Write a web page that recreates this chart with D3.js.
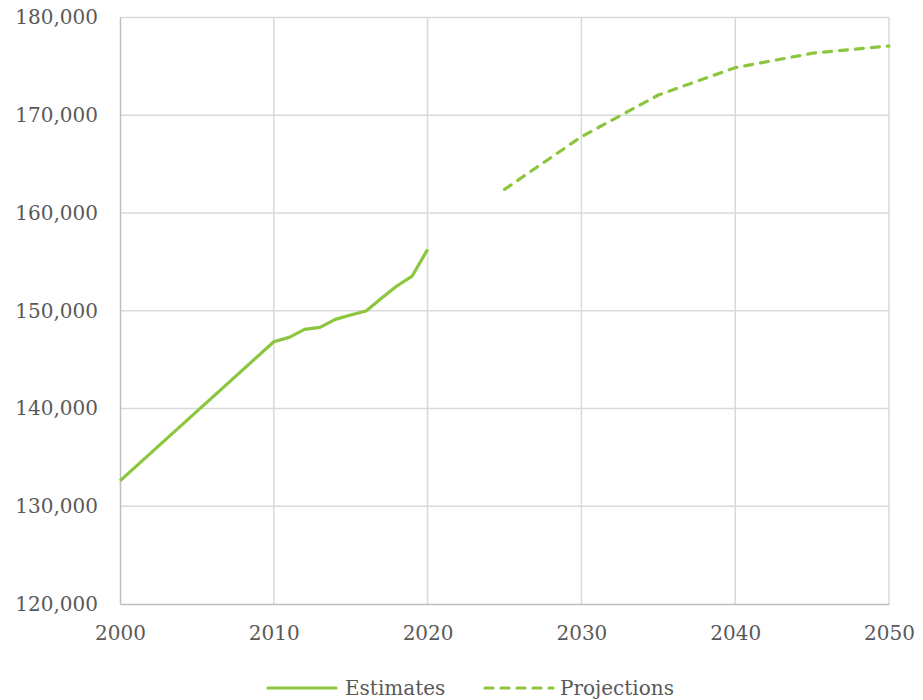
<!DOCTYPE html>
<html><head><meta charset="utf-8">
<script src="https://cdn.jsdelivr.net/npm/d3@7"></script>
<style>body{margin:0;background:#fff}svg{display:block}</style>
</head><body>
<script>
const estYears = [2000, 2010, 2011, 2012, 2013, 2014, 2015, 2016, 2017, 2018, 2019, 2020];
const estValues = [132600, 146830, 147280, 148100, 148300, 149120, 149560, 149970, 151270, 152530, 153550, 156280];
const projYears = [2025, 2030, 2035, 2040, 2045, 2050];
const projValues = [162420, 167800, 172070, 174870, 176340, 177080];
const xTicks = [2000, 2010, 2020, 2030, 2040, 2050];
const yTicks = [120000, 130000, 140000, 150000, 160000, 170000, 180000];
const seriesNames = ["Estimates", "Projections"];

const W = 923, H = 700;
const m = {left: 120, right: 34, top: 17.5, bottom: 96};
const green = "#8cc63e", textCol = "#595959", font = "'DejaVu Serif', serif";

const svg = d3.select("body").append("svg").attr("width", W).attr("height", H);
const x = d3.scaleLinear().domain([2000, 2050]).range([m.left, W - m.right]);
const y = d3.scaleLinear().domain([120000, 180000]).range([H - m.bottom, m.top]);

// gridlines
svg.append("g").selectAll("line.h").data(yTicks.slice(1)).join("line")
  .attr("x1", m.left).attr("x2", W - m.right)
  .attr("y1", d => y(d)).attr("y2", d => y(d))
  .attr("stroke", "#d9d9d9").attr("stroke-width", 1.5);
svg.append("g").selectAll("line.v").data(xTicks.slice(1)).join("line")
  .attr("x1", d => x(d)).attr("x2", d => x(d))
  .attr("y1", m.top).attr("y2", H - m.bottom)
  .attr("stroke", "#d9d9d9").attr("stroke-width", 1.5);

// axes
const yAxis = svg.append("g").attr("transform", `translate(${m.left},0)`)
  .call(d3.axisLeft(y).tickValues(yTicks).tickSize(0).tickPadding(22).tickFormat(d3.format(",")));
const xAxis = svg.append("g").attr("transform", `translate(0,${H - m.bottom})`)
  .call(d3.axisBottom(x).tickValues(xTicks).tickSize(0).tickPadding(22).tickFormat(d3.format("d")));
[yAxis, xAxis].forEach(a => {
  a.select(".domain").attr("stroke", "#bfbfbf").attr("stroke-width", 1.5);
  a.selectAll("text").attr("fill", textCol).attr("font-family", font).attr("font-size", 20);
});

const line = d3.line().x(d => x(d[0])).y(d => y(d[1]));
svg.append("path").datum(estYears.map((yr, i) => [yr, estValues[i]]))
  .attr("d", line).attr("fill", "none").attr("stroke", green).attr("stroke-width", 3.2)
  .attr("stroke-linejoin", "round");
svg.append("path").datum(projYears.map((yr, i) => [yr, projValues[i]]))
  .attr("d", line).attr("fill", "none").attr("stroke", green).attr("stroke-width", 3.2)
  .attr("stroke-dasharray", "8,8").attr("stroke-linecap", "round").attr("stroke-linejoin", "round");

// legend
const ly = 688;
const leg = svg.append("g");
leg.append("line").attr("x1", 268).attr("x2", 336).attr("y1", ly).attr("y2", ly)
  .attr("stroke", green).attr("stroke-width", 3.2).attr("stroke-linecap", "round");
leg.append("text").attr("x", 345).attr("y", ly).attr("dy", "0.35em").text(seriesNames[0]);
leg.append("line").attr("x1", 485).attr("x2", 553).attr("y1", ly).attr("y2", ly)
  .attr("stroke", green).attr("stroke-width", 3.2).attr("stroke-linecap", "round").attr("stroke-dasharray", "8,8");
leg.append("text").attr("x", 560).attr("y", ly).attr("dy", "0.35em").text(seriesNames[1]);
leg.selectAll("text").attr("fill", textCol).attr("font-family", font).attr("font-size", 20);
</script>
</body></html>
